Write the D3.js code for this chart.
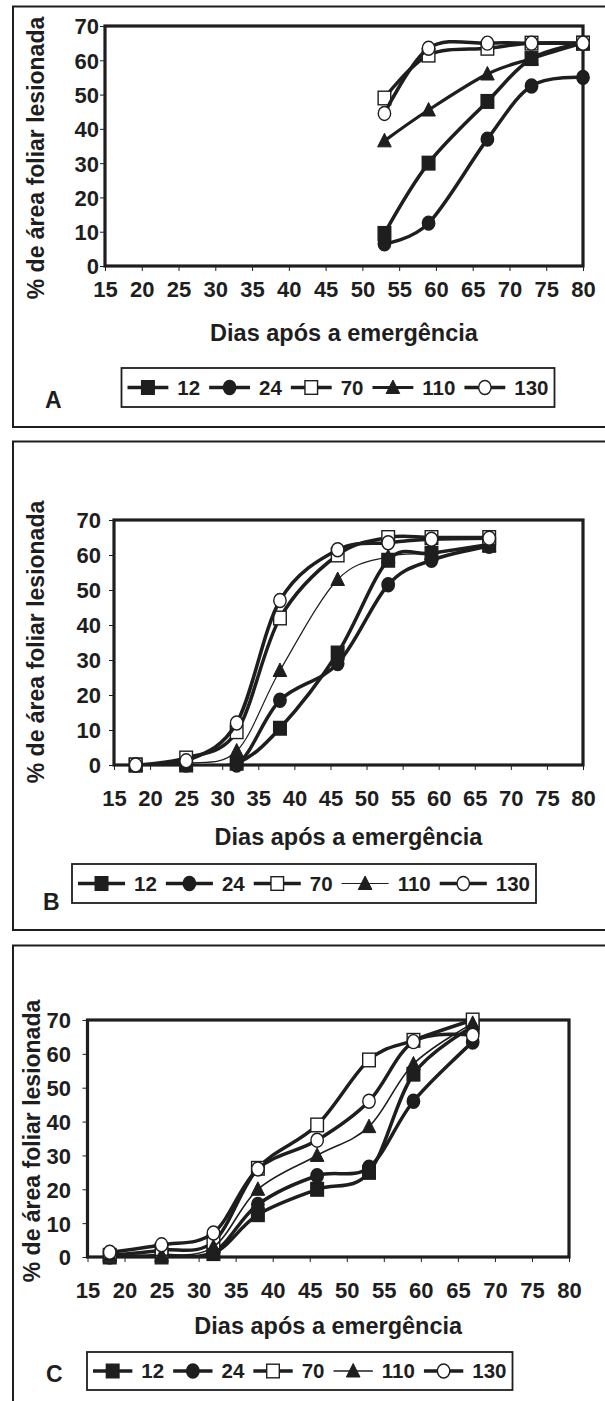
<!DOCTYPE html>
<html>
<head>
<meta charset="utf-8">
<script src="https://cdn.jsdelivr.net/npm/d3@7"></script>
<style>
  body { margin: 0; background: #fff; }
  svg text { font-family: "Liberation Sans", Arial, sans-serif; font-weight: bold; fill: #1e1e1e; }
</style>
</head>
<body>
<div id="chart"></div>
<script>
// values: % injured leaf area by days after emergence
const seriesNames = ['12', '24', '70', '110', '130'];
const markerTypes = ['square', 'circle', 'openSquare', 'triangle', 'openCircle'];
const xTickLabels = [15, 20, 25, 30, 35, 40, 45, 50, 55, 60, 65, 70, 75, 80];
const yTickLabels = [0, 10, 20, 30, 40, 50, 60, 70];

// panel A
const daysA = [53, 59, 67, 73, 80];
const a12 = [9.5, 30, 48, 60.5, 65];
const a24 = [6.5, 12.5, 37, 52.5, 55];
const a70 = [49, 61.5, 63.5, 65, 65];
const a110 = [36.5, 45.5, 56, 60.5, 65];
const a130 = [44.5, 63.5, 65, 65, 65];

// panel B
const daysB = [18, 25, 32, 38, 46, 53, 59, 67];
const b12 = [0, 0, 0.5, 10.5, 32, 58.5, 60.5, 63];
const b24 = [0, 0, 0, 18.5, 29, 51.5, 58.5, 62.5];
const b70 = [0, 2, 9.5, 42, 60, 65, 65, 65];
const b110 = [0, 0.5, 4, 27, 53, 59.5, 60.5, 62.5];
const b130 = [0, 1.2, 12, 47, 61.5, 63.5, 64.5, 64.8];

// panel C
const daysC = [18, 25, 32, 38, 46, 53, 59, 67];
const c12 = [0, 0, 1, 12.5, 20, 25, 54, 68];
const c24 = [0, 0.5, 1.5, 15.5, 24, 26.5, 46, 63.5];
const c70 = [0.5, 2, 4.5, 26.2, 39, 58.2, 64, 70];
const c110 = [0.5, 0.5, 3, 20, 30, 38.5, 57, 69];
const c130 = [1.4, 3.6, 7.1, 26, 34.5, 46, 63.6, 65.5];

const ink = '#1e1e1e';
const W = 605, H = 1401;

// layout per panel (positions only, no data)
const panels = [
  {
    letter: 'A', days: daysA, values: [a12, a24, a70, a110, a130],
    widths: [3.5, 3.5, 3.5, 3.2, 3.5],
    frame: { top: 6.5, bottom: 427 },
    plot: { left: 105, right: 583, top: 26, bottom: 266 },
    yLabelX: 99, xLabelY: 297, xTitleY: 341, yTitleX: 36, yTitleY: 158,
    legend: { x0: 121.5, x1: 554.5, y0: 368, y1: 407 },
    letterPos: { x: 45, y: 408 }
  },
  {
    letter: 'B', days: daysB, values: [b12, b24, b70, b110, b130],
    widths: [3.5, 3.5, 3.5, 1.2, 3.5],
    frame: { top: 441.5, bottom: 930 },
    plot: { left: 114, right: 583, top: 520, bottom: 765 },
    yLabelX: 101, xLabelY: 806, xTitleY: 845, yTitleX: 36, yTitleY: 642,
    legend: { x0: 72, x1: 536, y0: 864, y1: 903 },
    letterPos: { x: 43, y: 910 }
  },
  {
    letter: 'C', days: daysC, values: [c12, c24, c70, c110, c130],
    widths: [3.5, 3.5, 3.5, 1.6, 3.5],
    frame: { top: 945.5, bottom: 1420 },
    plot: { left: 87.5, right: 569, top: 1020, bottom: 1257 },
    yLabelX: 71, xLabelY: 1298, xTitleY: 1334, yTitleX: 32, yTitleY: 1141,
    legend: { x0: 87, x1: 512.5, y0: 1352, y1: 1390 },
    letterPos: { x: 46, y: 1382 }
  }
];

const svg = d3.select('#chart').append('svg')
  .attr('width', W)
  .attr('height', H);

svg.append('rect').attr('width', W).attr('height', H).attr('fill', '#fff');
const defs = svg.append('defs');

function drawMarker(g, type, cx, cy) {
  const filled = type === 'square' || type === 'circle' || type === 'triangle';
  const fill = filled ? ink : '#fff';
  if (type === 'square' || type === 'openSquare') {
    g.append('rect')
      .attr('x', cx - 6.3).attr('y', cy - 6.8)
      .attr('width', 12.6).attr('height', 13.6)
      .attr('fill', fill).attr('stroke', ink).attr('stroke-width', 1.4);
  } else if (type === 'circle' || type === 'openCircle') {
    g.append('ellipse')
      .attr('cx', cx).attr('cy', cy)
      .attr('rx', 6.2).attr('ry', 7)
      .attr('fill', fill).attr('stroke', ink).attr('stroke-width', 1.4);
  } else {
    g.append('path')
      .attr('d', `M${cx},${cy - 7.5}L${cx + 6.8},${cy + 6}L${cx - 6.8},${cy + 6}Z`)
      .attr('fill', fill).attr('stroke', ink).attr('stroke-width', 1);
  }
}

panels.forEach((p) => {
  const g = svg.append('g').attr('class', `panel panel-${p.letter}`);

  // outer frame, right edge runs off the page
  g.append('rect')
    .attr('x', 13).attr('y', p.frame.top)
    .attr('width', W + 20).attr('height', p.frame.bottom - p.frame.top)
    .attr('fill', 'none').attr('stroke', ink).attr('stroke-width', 2);

  const x = d3.scaleLinear().domain([15, 80]).range([p.plot.left, p.plot.right]);
  const y = d3.scaleLinear().domain([0, 70]).range([p.plot.bottom, p.plot.top]);

  // lines get clipped to the plot area like the spreadsheet does
  defs.append('clipPath').attr('id', `clip-${p.letter}`)
    .append('rect')
    .attr('x', p.plot.left).attr('y', p.plot.top - 2)
    .attr('width', p.plot.right - p.plot.left)
    .attr('height', p.plot.bottom - p.plot.top + 2);

  const xAxis = d3.axisBottom(x).tickValues(xTickLabels).tickSize(5).tickSizeOuter(0);
  const gx = g.append('g')
    .attr('class', 'x axis')
    .attr('transform', `translate(0,${p.plot.bottom})`)
    .call(xAxis);
  gx.select('.domain').remove();
  gx.selectAll('line').attr('stroke', ink).attr('stroke-width', 1);
  gx.selectAll('text')
    .attr('y', p.xLabelY - p.plot.bottom).attr('dy', null)
    .attr('font-size', 22).attr('fill', ink);

  const yAxis = d3.axisLeft(y).tickValues(yTickLabels).tickSize(5).tickSizeOuter(0);
  const gy = g.append('g')
    .attr('class', 'y axis')
    .attr('transform', `translate(${p.plot.left},0)`)
    .call(yAxis);
  gy.select('.domain').remove();
  gy.selectAll('line').attr('stroke', ink).attr('stroke-width', 1);
  gy.selectAll('text')
    .attr('x', p.yLabelX - p.plot.left).attr('dy', '0.36em')
    .attr('font-size', 22).attr('fill', ink);

  // plot area border
  g.append('rect')
    .attr('x', p.plot.left).attr('y', p.plot.top)
    .attr('width', p.plot.right - p.plot.left)
    .attr('height', p.plot.bottom - p.plot.top)
    .attr('fill', 'none').attr('stroke', ink).attr('stroke-width', 3.2);

  const line = d3.line()
    .x((d) => x(d[0]))
    .y((d) => y(d[1]))
    .curve(d3.curveCardinal.tension(0));

  p.values.forEach((vals, i) => {
    const pts = p.days.map((d, k) => [d, vals[k]]);
    const sg = g.append('g').attr('class', `series s${seriesNames[i]}`);
    sg.append('path')
      .datum(pts)
      .attr('d', line)
      .attr('clip-path', `url(#clip-${p.letter})`)
      .attr('fill', 'none')
      .attr('stroke', ink)
      .attr('stroke-width', p.widths[i])
      .attr('stroke-linejoin', 'round');
    pts.forEach((d) => drawMarker(sg, markerTypes[i], x(d[0]), y(d[1])));
  });

  // axis titles
  g.append('text')
    .attr('x', (p.plot.left + p.plot.right) / 2)
    .attr('y', p.xTitleY)
    .attr('text-anchor', 'middle')
    .attr('font-size', 23.5)
    .text('Dias após a emergência');

  g.append('text')
    .attr('transform', `translate(${p.yTitleX},${p.yTitleY}) rotate(-90)`)
    .attr('text-anchor', 'middle')
    .attr('dy', '0.35em')
    .attr('font-size', 23)
    .text('% de área foliar lesionada');

  // legend
  const lg = g.append('g').attr('class', 'legend');
  lg.append('rect')
    .attr('x', p.legend.x0).attr('y', p.legend.y0)
    .attr('width', p.legend.x1 - p.legend.x0)
    .attr('height', p.legend.y1 - p.legend.y0)
    .attr('fill', '#fff').attr('stroke', ink).attr('stroke-width', 1.8);

  const cy = (p.legend.y0 + p.legend.y1) / 2;
  const labels = seriesNames.map((s) => lg.append('text')
    .attr('font-size', 20.5)
    .attr('dy', '0.36em')
    .attr('y', cy)
    .text(s));
  const textW = labels.map((t) => t.node().getComputedTextLength());
  const pad = 6, gapText = 9, gapItem = 9;
  const lineLen = (p.legend.x1 - p.legend.x0 - 2 * pad - d3.sum(textW) - 5 * gapText - 4 * gapItem) / 5;
  let cx = p.legend.x0 + pad;
  seriesNames.forEach((s, i) => {
    lg.append('line')
      .attr('x1', cx).attr('x2', cx + lineLen)
      .attr('y1', cy).attr('y2', cy)
      .attr('stroke', ink).attr('stroke-width', p.widths[i]);
    drawMarker(lg, markerTypes[i], cx + lineLen / 2, cy);
    labels[i].attr('x', cx + lineLen + gapText);
    cx += lineLen + gapText + textW[i] + gapItem;
  });

  g.append('text')
    .attr('x', p.letterPos.x).attr('y', p.letterPos.y)
    .attr('font-size', 23)
    .text(p.letter);
});
</script>
</body>
</html>
